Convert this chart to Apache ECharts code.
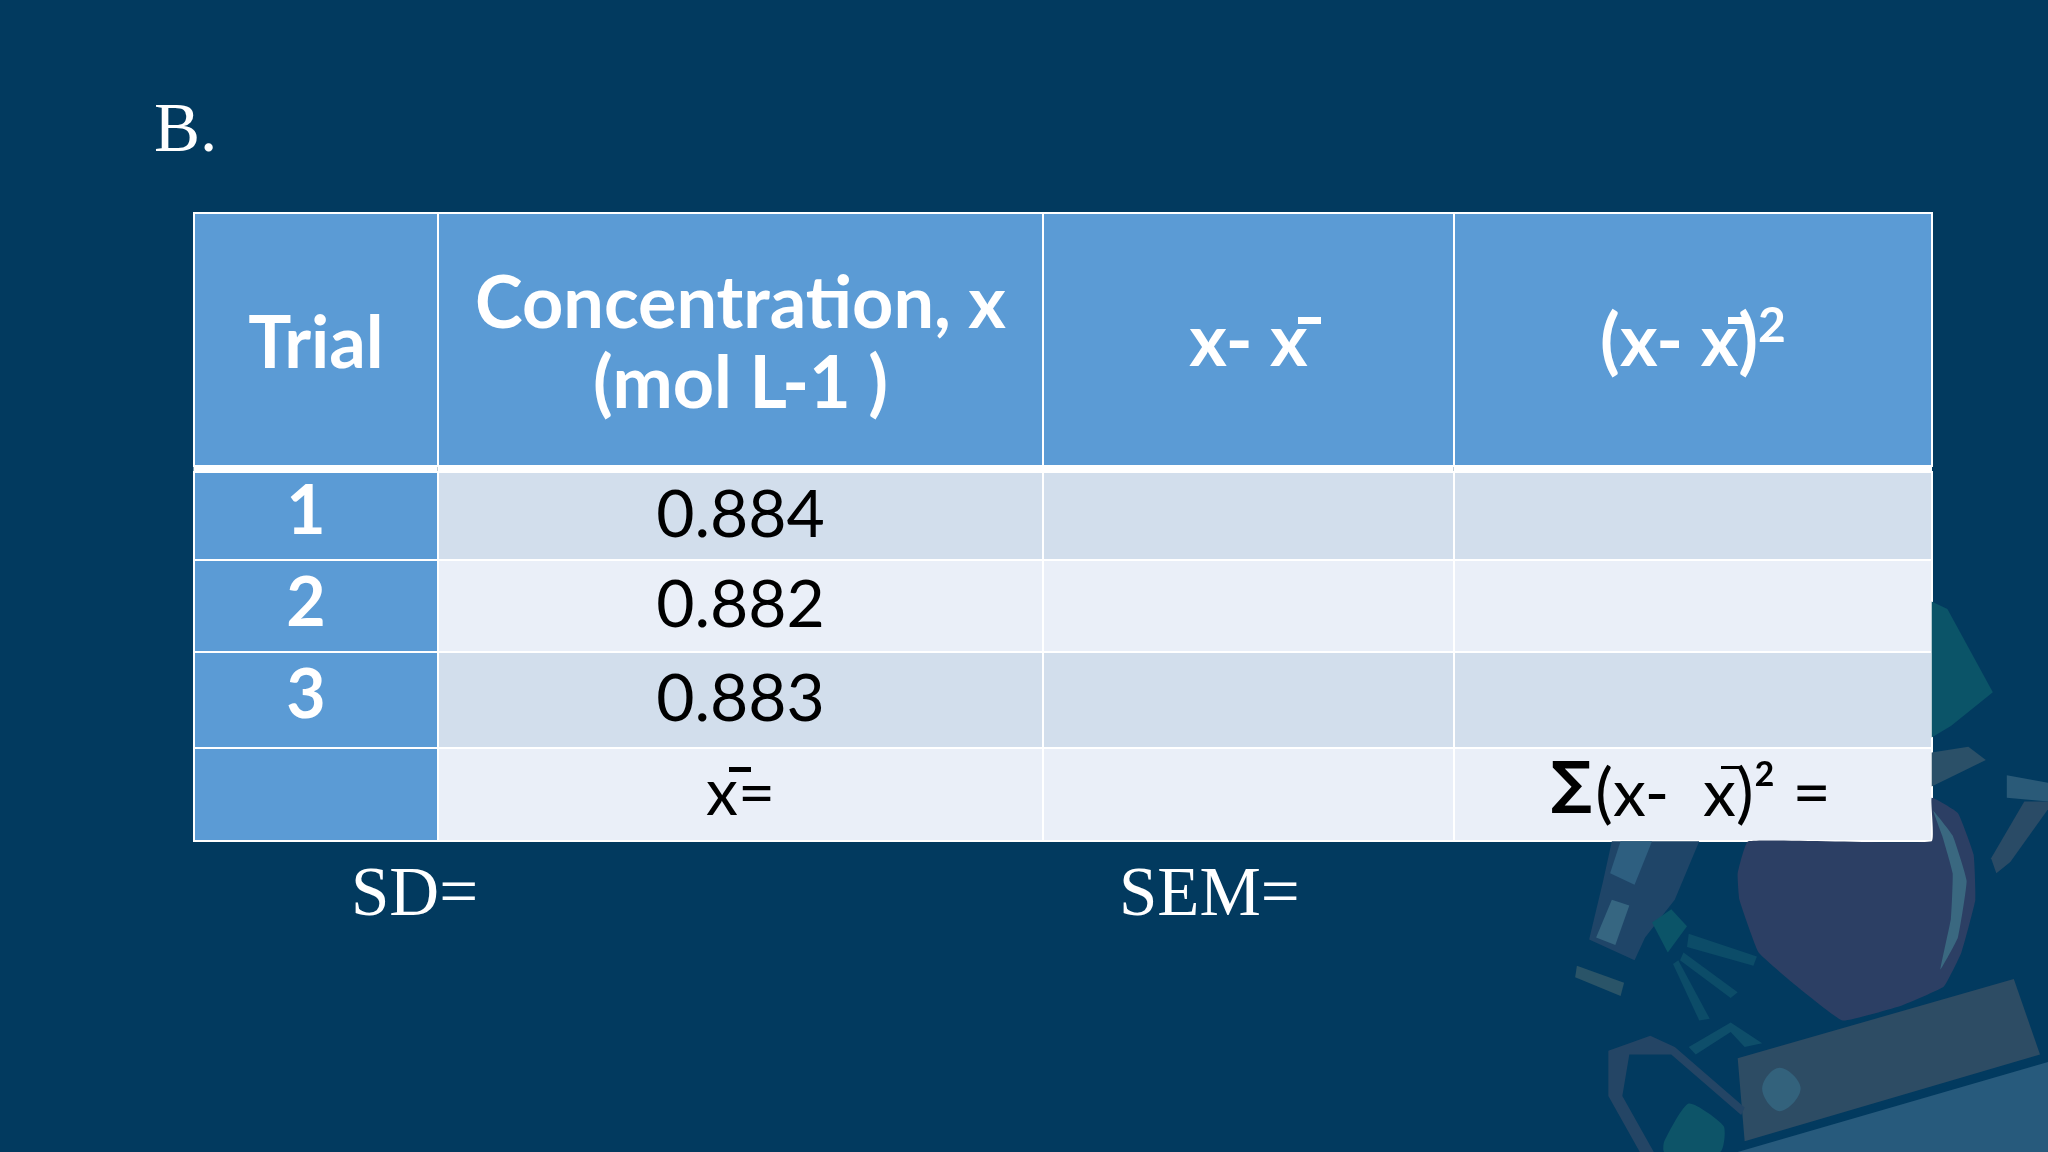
<!DOCTYPE html>
<html lang="en" style="height: 100%">
<head>
  <meta charset="utf-8">
</head>
<body style="height: 100%; margin: 0; background: #023a5f">
  <div id="container" style="height: 100%"></div>
  <script type="text/javascript" src="https://cdn.jsdelivr.net/npm/echarts@6/dist/echarts.min.js"></script>
  <script type="text/javascript">
    var headers = ['Trial', 'Concentration, x\n(mol L-1 )', 'x- x', '(x- x){sup|2}'];
    var trials = ['1', '2', '3'];
    var concentrations = ['0.884', '0.882', '0.883'];
    var totalRow = ['', 'x=', '', '(x-  x)\u00b2 ='];

    var colWidths = [244, 605.5, 410.5, 478.5];
    var rowHeights = [253, 6, 88, 91.5, 96.5, 93];
    var headPads = [92, 52, 90, 90];
    var rowPads = [0, 4, 4];
    var valueLifts = [8, 8, 12];

    var HEAD = '#5b9bd5';
    var BAND_A = '#d2deec';
    var BAND_B = '#eaeff8';
    var BODY_FONT = 'Lato';

    var dom = document.getElementById('container');
    var myChart = echarts.init(dom, null, { renderer: 'canvas' });

    function headLabel(size, pad) {
      return {
        show: true, color: '#fff', fontFamily: BODY_FONT, fontWeight: 'bold',
        fontSize: size, lineHeight: 80, padding: pad, overflow: 'none', lineOverflow: 'none',
        rich: { sup: { fontSize: 48, fontFamily: BODY_FONT, color: '#fff', verticalAlign: 'top', lineHeight: 62 } }
      };
    }
    function darkLabel(size, pad) {
      return {
        show: true, color: '#000', fontFamily: BODY_FONT, fontSize: size, lineHeight: 80,
        padding: pad, overflow: 'none', lineOverflow: 'none'
      };
    }

    var cells = [];
    headers.forEach(function (h, c) {
      cells.push({ coord: [c, 0], value: h, itemStyle: { color: HEAD }, label: headLabel(72, [headPads[c], 0, 0, 0]) });
    });
    for (var c = 0; c < 4; c++) {
      cells.push({ coord: [c, 1], value: '', itemStyle: { color: '#fff', borderWidth: 0 } });
    }
    trials.forEach(function (t, i) {
      var band = i % 2 ? BAND_B : BAND_A;
      cells.push({ coord: [0, i + 2], value: t, itemStyle: { color: HEAD }, label: headLabel(68, [rowPads[i], 20, 0, 0]) });
      cells.push({ coord: [1, i + 2], value: concentrations[i], itemStyle: { color: band }, label: darkLabel(66, [0, 0, valueLifts[i], 0]) });
      cells.push({ coord: [2, i + 2], value: '', itemStyle: { color: band } });
      cells.push({ coord: [3, i + 2], value: '', itemStyle: { color: band } });
    });
    totalRow.forEach(function (v, c) {
      cells.push({ coord: [c, 5], value: v, itemStyle: { color: c ? BAND_B : HEAD }, label: darkLabel(c === 3 ? 66 : 64, [0, 0, 0, c === 3 ? 40 : 0]) });
    });

    // faint illustration in the slide background
    function deco(points, color, smooth) {
      return {
        type: 'polygon', silent: true, z: -1,
        shape: { points: points.map(function (p) { return [1500 + p[0] / 2.861, 560 + p[1] / 2.649]; }), smooth: smooth || 0 },
        style: { fill: color }
      };
    }
    function bar(x, y, w, h, fill) {
      return { type: 'rect', z: 50, silent: true, shape: { x: x, y: y, width: w, height: h }, style: { fill: fill } };
    }
    function text(t, x, y, font, fill) {
      return { type: 'text', z: 50, left: x, top: y, style: { text: t, fill: fill || '#fff', font: font || '69px "Liberation Serif"' } };
    }

    var graphics = [
      deco([[1235, 110], [1280, 130], [1410, 350], [1290, 440], [1235, 470]], '#0b5468'),
      deco([[1235, 510], [1340, 495], [1390, 530], [1235, 600]], '#2b5068'),
      deco([[1450, 570], [1568, 590], [1568, 640], [1450, 630]], '#2a5a78'),
      deco([[1500, 640], [1568, 640], [1568, 660], [1460, 800], [1420, 830], [1405, 790]], '#2a4b66'),
      deco([[1235, 630], [1310, 670], [1355, 780], [1360, 900], [1320, 1040], [1270, 1130], [1150, 1180], [980, 1220], [850, 1130], [740, 1040], [685, 900], [680, 830], [710, 745], [1235, 745]], '#2c3f64', 0.1),
      deco([[1240, 665], [1295, 730], [1335, 850], [1310, 1000], [1260, 1085], [1290, 950], [1295, 830], [1265, 730]], '#3a6880', 0.1),
      deco([[570, 745], [320, 745], [295, 850], [255, 1005], [385, 1060], [415, 1000], [500, 900]], '#1f4568'),
      deco([[345, 745], [435, 745], [385, 860], [315, 830]], '#2e5f80'),
      deco([[320, 900], [370, 915], [330, 1020], [275, 1000]], '#366681'),
      deco([[220, 1075], [355, 1120], [345, 1155], [215, 1105]], '#2a5468'),
      deco([[435, 960], [490, 925], [535, 970], [480, 1040]], '#0b5468'),
      deco([[540, 990], [735, 1050], [725, 1075], [535, 1025]], '#0c4c68'),
      deco([[525, 1040], [680, 1145], [660, 1160], [515, 1060]], '#0c4c68'),
      deco([[510, 1060], [600, 1215], [570, 1220], [495, 1070]], '#0c4c68'),
      deco([[680, 1320], [1470, 1110], [1545, 1310], [700, 1540]], '#2d4c64'),
      deco([[680, 1568], [1568, 1330], [1568, 1568]], '#275a7c'),
      deco([[750, 1400], [800, 1345], [860, 1400], [800, 1460]], '#33627c', 0.4),
      deco([[470, 1540], [540, 1440], [640, 1500], [630, 1568], [470, 1568]], '#0d5468', 0.2),
      deco([[310, 1300], [430, 1260], [500, 1290], [700, 1450], [690, 1470], [490, 1310], [370, 1310], [350, 1420], [440, 1568], [400, 1568], [310, 1420]], '#244565'),
      deco([[540, 1290], [660, 1225], [750, 1280], [700, 1290], [660, 1250], [560, 1310]], '#0e4e6a'),
      // overbars of the mean symbol
      bar(1298, 317, 23, 7, '#fff'),
      bar(1728, 317, 21, 7, '#fff'),
      bar(729, 767, 22, 5, '#000'),
      bar(1721, 766, 18, 3, '#000'),
      text('\u2211', 1551, 759, 'bold 57px "DejaVu Sans"', '#000'),
      text('B.', 154, 98),
      text('SD=', 351, 862),
      text('SEM=', 1119, 862)
    ];

    var option = {
      backgroundColor: '#023a5f',
      matrix: {
        left: 193.5,
        top: 213,
        width: 1738.5,
        height: 628,
        x: { show: false, data: colWidths.map(function (w, i) { return { value: 'c' + i, size: w }; }) },
        y: { show: false, data: rowHeights.map(function (h, i) { return { value: 'r' + i, size: h }; }) },
        body: {
          itemStyle: { borderColor: '#fff', borderWidth: 2 },
          data: cells
        },
        backgroundStyle: { color: 'transparent', borderWidth: 0 }
      },
      graphic: { elements: graphics }
    };
    myChart.setOption(option);

    window.addEventListener('resize', myChart.resize);
  </script>
</body>
</html>
